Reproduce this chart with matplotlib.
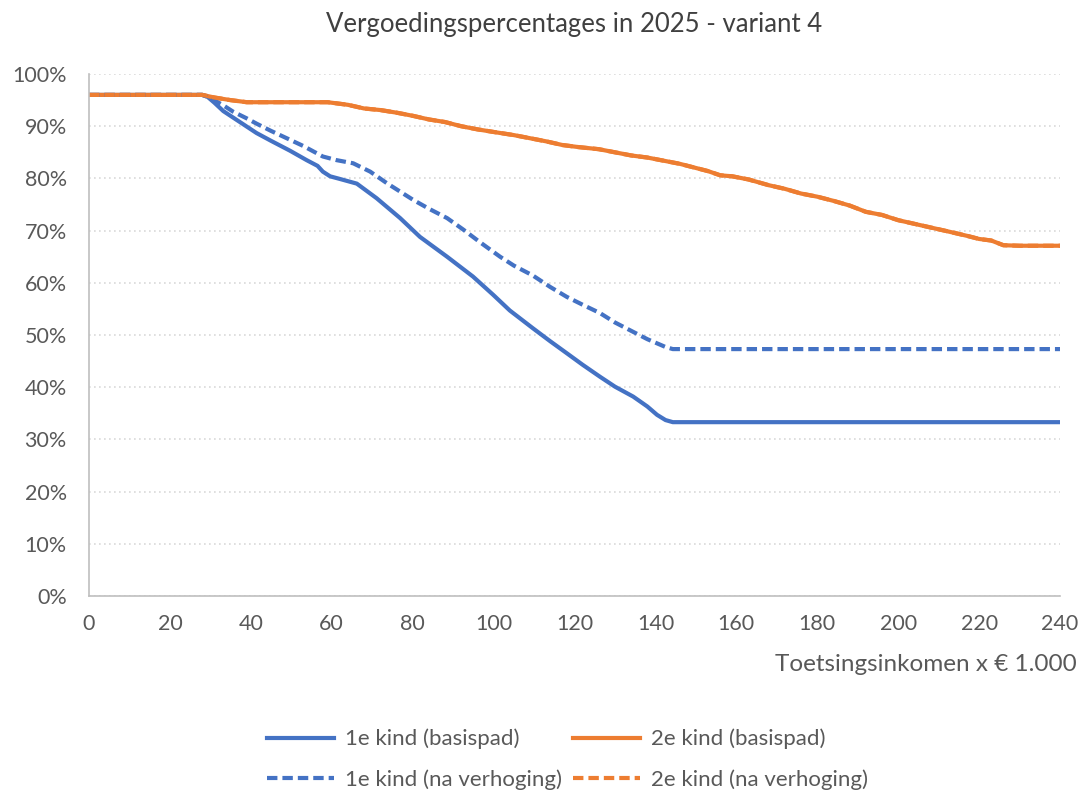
import matplotlib.pyplot as plt
from matplotlib.ticker import MultipleLocator, PercentFormatter

plt.rcParams['font.family'] = ['Lato', 'DejaVu Sans']

# orange lines (2e kind): basispad and na verhoging are the same
x_2e = [0, 28, 31, 35, 39, 45, 50, 55, 59, 64, 68, 72, 76, 80, 84, 88, 92, 96, 100,
        105, 109, 113, 117, 121, 126, 130, 134, 138, 142, 146, 150, 153, 156, 159,
        163, 168, 172, 176, 180, 184, 188, 192, 196, 200, 204, 208, 212, 217, 220,
        223, 226, 230, 235, 240]
y_2e = [96.0, 96.0, 95.5, 95.0, 94.6, 94.6, 94.6, 94.6, 94.6, 94.1, 93.4, 93.1, 92.6,
        92.0, 91.3, 90.8, 90.0, 89.4, 88.9, 88.3, 87.7, 87.1, 86.4, 86.0, 85.6, 85.0,
        84.4, 84.0, 83.4, 82.8, 82.0, 81.4, 80.6, 80.4, 79.8, 78.7, 78.0, 77.1, 76.5,
        75.7, 74.8, 73.6, 73.0, 72.0, 71.3, 70.6, 69.9, 69.0, 68.4, 68.1, 67.2, 67.1,
        67.1, 67.1]
y_2e_na = y_2e

x_1e = [0, 28, 29.2, 31, 33.2, 37.3, 41.4, 45, 49.7, 53.8, 56.5, 57.8, 59.6, 62, 66.2,
        71.1, 76.9, 81.8, 88.5, 94.9, 99.9, 104, 109.7, 114, 118.1, 122, 126.3, 130,
        134.5, 138, 140.4, 142.5, 144.3, 150, 180, 210, 240]
y_1e = [96.0, 96.0, 95.7, 94.5, 92.9, 90.8, 88.7, 87.2, 85.3, 83.5, 82.4, 81.3, 80.4,
        79.9, 79.0, 76.2, 72.4, 68.8, 65.0, 61.2, 57.7, 54.7, 51.3, 48.8, 46.5, 44.3,
        42.0, 40.1, 38.2, 36.3, 34.7, 33.7, 33.3, 33.3, 33.3, 33.3, 33.3]

x_1e_na = [0, 28, 30, 33.2, 35.6, 39, 41.4, 45, 49.7, 53, 57.8, 61.2, 65.3, 69.5,
           73.6, 80.1, 84, 88.5, 92.5, 96.6, 101.6, 105, 109.7, 114, 118.1, 122,
           126.3, 130, 134.5, 138, 140.4, 142.5, 144.3, 150, 180, 210, 240]
y_1e_na = [96.0, 96.0, 95.4, 94.0, 92.8, 91.5, 90.5, 89.1, 87.4, 86.2, 84.2, 83.5,
           82.9, 81.3, 79.1, 75.9, 74.2, 72.4, 70.2, 67.8, 65.0, 63.3, 61.4, 59.2,
           57.3, 55.8, 54.2, 52.4, 50.6, 49.2, 48.4, 47.7, 47.3, 47.3, 47.3, 47.3, 47.3]

labels = ['1e kind (basispad)', '2e kind (basispad)',
          '1e kind (na verhoging)', '2e kind (na verhoging)']

blue = '#4472c4'
orange = '#ed7d31'
grey_txt = '#595959'

fig = plt.figure(figsize=(10.85, 7.96), dpi=100)
ax = fig.add_axes([0.082, 0.2513, 0.895, 0.6557])

lw = 3.0
dash = (2.5, 1.2)
h1, = ax.plot(x_1e, y_1e, color=blue, lw=lw, label=labels[0])
h2, = ax.plot(x_2e, y_2e, color=orange, lw=lw, label=labels[1])
h3, = ax.plot(x_1e_na, y_1e_na, color=blue, lw=lw, dashes=dash, label=labels[2])
h4, = ax.plot(x_2e, y_2e_na, color=orange, lw=lw, dashes=dash, label=labels[3])

ax.set_xlim(0, 240)
ax.set_ylim(0, 100)
ax.xaxis.set_major_locator(MultipleLocator(20))
ax.yaxis.set_major_locator(MultipleLocator(10))
ax.yaxis.set_major_formatter(PercentFormatter(decimals=0))

ax.grid(axis='y', color='#d9d9d9', lw=1.2, linestyle=(0, (1, 2)))
ax.set_axisbelow(True)
for s in ['top', 'right']:
    ax.spines[s].set_visible(False)
for s in ['left', 'bottom']:
    ax.spines[s].set_color('#bfbfbf')
    ax.spines[s].set_linewidth(1.2)
ax.tick_params(length=0, labelsize=15.5, colors=grey_txt)
ax.tick_params(axis='x', pad=13)
ax.tick_params(axis='y', pad=16)

ax.set_title('Vergoedingspercentages in 2025 - variant 4', fontsize=18.5,
             color='#404040', pad=30)
fig.text(0.992, 0.165, 'Toetsingsinkomen x € 1.000', ha='right', va='center',
         fontsize=17.5, color=grey_txt)

leg = fig.legend([h1, h3, h2, h4], [labels[0], labels[2], labels[1], labels[3]],
                 ncol=2, loc='center', bbox_to_anchor=(0.523, 0.046), frameon=False,
                 fontsize=16, handlelength=3.0, columnspacing=0.5,
                 labelspacing=0.9, handletextpad=0.5)
for t in leg.get_texts():
    t.set_color(grey_txt)

fig.savefig('out.png', dpi=100)
